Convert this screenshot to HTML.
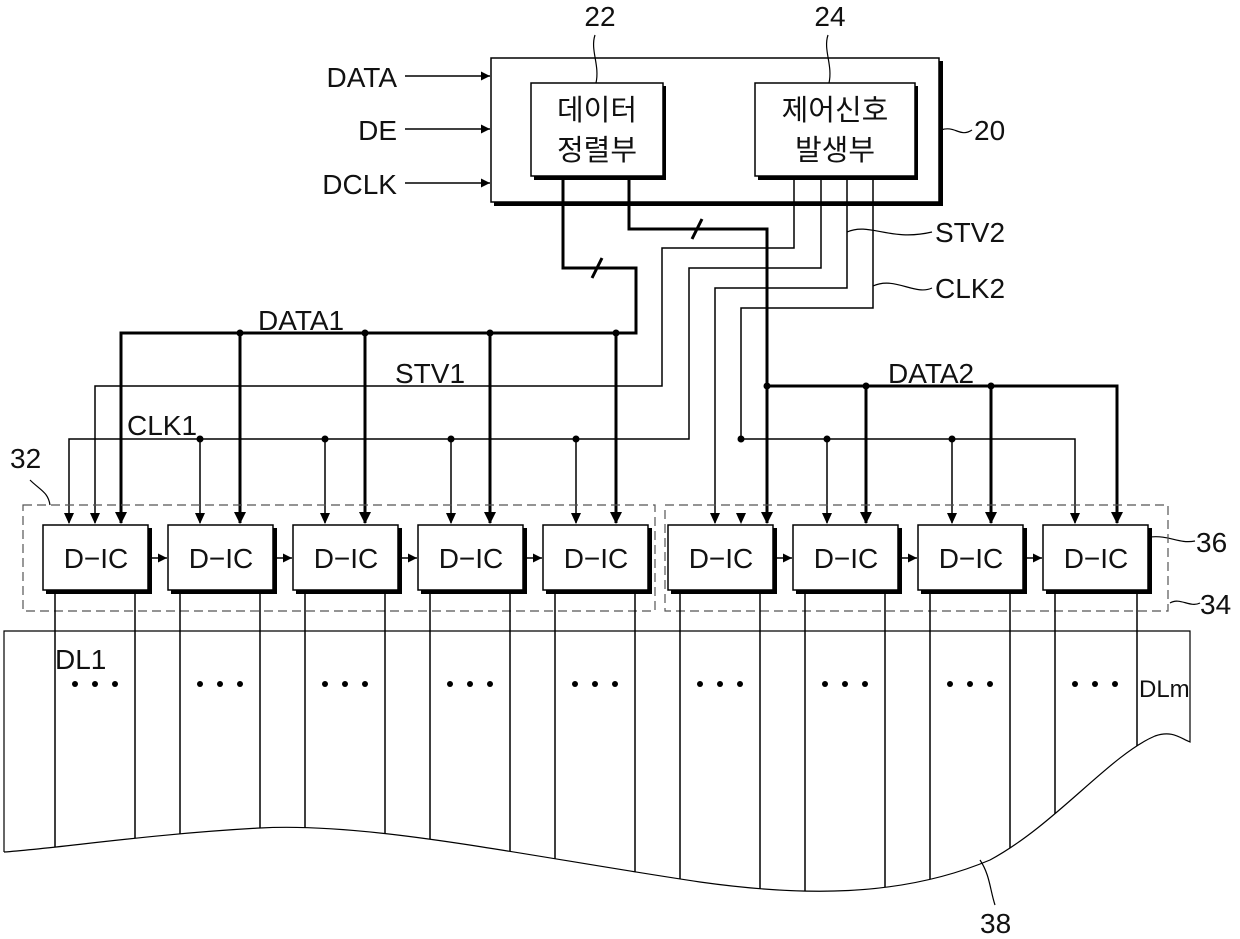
<!DOCTYPE html>
<html><head><meta charset="utf-8"><style>
html,body{margin:0;padding:0;background:#fff}
svg{display:block}
text{font-family:"Liberation Sans","Noto Sans CJK KR",sans-serif;fill:#111}
</style></head><body>
<svg width="1240" height="939" viewBox="0 0 1240 939" xmlns="http://www.w3.org/2000/svg">
<defs>
<marker id="a" viewBox="0 0 10 10" refX="10" refY="5" markerWidth="9" markerHeight="9" markerUnits="userSpaceOnUse" orient="auto"><path d="M0,0 L10,5 L0,10 z" fill="#000"/></marker>
<clipPath id="pc"><path d="M4,631 H1190 V742 C1180,738 1172,730 1155,736 C1110,755 1055,825 990,860 C900,898 800,896 700,882 C520,855 370,822 260,828 C150,834 60,848 4,852 Z"/></clipPath>
</defs>
<g stroke="#000" fill="none">
<rect x="494" y="61" width="449" height="145" fill="#000" stroke="none"/>
<rect x="491" y="58" width="448" height="144" fill="#fff" stroke-width="1.5"/>
<rect x="534" y="86" width="132" height="94" fill="#000" stroke="none"/>
<rect x="531" y="83" width="132" height="93" fill="#fff" stroke-width="1.5"/>
<rect x="758" y="86" width="160" height="94" fill="#000" stroke="none"/>
<rect x="755" y="83" width="160" height="93" fill="#fff" stroke-width="1.5"/>
<line x1="405" y1="76" x2="490" y2="76" stroke-width="1.5" marker-end="url(#a)"/>
<line x1="405" y1="129" x2="490" y2="129" stroke-width="1.5" marker-end="url(#a)"/>
<line x1="405" y1="183" x2="490" y2="183" stroke-width="1.5" marker-end="url(#a)"/>
<path d="M595,35 C590,50 600,65 596,83" stroke-width="1.2"/>
<path d="M828,35 C823,50 833,65 829,83" stroke-width="1.2"/>
<path d="M941,130 C955,125 960,138 972,130" stroke-width="1.2"/>
<path d="M847,232 C870,222 890,242 932,232" stroke-width="1.2"/>
<path d="M873,286 C895,276 915,296 932,288" stroke-width="1.2"/>
<path d="M30,480 C40,490 48,492 50,505" stroke-width="1.2"/>
<path d="M1150,537 C1170,535 1178,544 1195,541" stroke-width="1.2"/>
<path d="M1170,603 C1180,597 1190,608 1200,603" stroke-width="1.2"/>
<path d="M980,860 C990,875 990,890 995,905" stroke-width="1.2"/>
<g stroke-width="3">
<polyline points="563,176 563,268 636,268 636,333 121,333 121,523"/>
<line x1="240" y1="333" x2="240" y2="523"/>
<line x1="365" y1="333" x2="365" y2="523"/>
<line x1="490" y1="333" x2="490" y2="523"/>
<line x1="616" y1="333" x2="616" y2="523"/>
<polyline points="629,176 629,229 767,229 767,523"/>
<polyline points="767,386 1117,386 1117,523"/>
<line x1="866" y1="386" x2="866" y2="523"/>
<line x1="991" y1="386" x2="991" y2="523"/>
<line x1="592" y1="278" x2="602" y2="258"/>
<line x1="692" y1="239" x2="702" y2="219"/>
</g>
<g stroke-width="1.5">
<polyline points="794,176 794,248 662,248 662,386 95,386 95,523"/>
<polyline points="821,176 821,268 689,268 689,439 69,439 69,523"/>
<polyline points="847,176 847,288 715,288 715,523"/>
<polyline points="873,176 873,308 741,308 741,439 1075,439 1075,523"/>
<line x1="200" y1="439" x2="200" y2="523"/>
<line x1="325" y1="439" x2="325" y2="523"/>
<line x1="451" y1="439" x2="451" y2="523"/>
<line x1="576" y1="439" x2="576" y2="523"/>
<line x1="827" y1="439" x2="827" y2="523"/>
<line x1="952" y1="439" x2="952" y2="523"/>
</g>
<g fill="#000" stroke="none">
<path d="M64,513 L74,513 L69,524 z"/><path d="M90,513 L100,513 L95,524 z"/><path d="M115,512 L127,512 L121,524 z"/>
<path d="M195,513 L205,513 L200,524 z"/><path d="M234,512 L246,512 L240,524 z"/>
<path d="M320,513 L330,513 L325,524 z"/><path d="M359,512 L371,512 L365,524 z"/>
<path d="M446,513 L456,513 L451,524 z"/><path d="M484,512 L496,512 L490,524 z"/>
<path d="M571,513 L581,513 L576,524 z"/><path d="M610,512 L622,512 L616,524 z"/>
<path d="M710,513 L720,513 L715,524 z"/><path d="M736,513 L746,513 L741,524 z"/><path d="M761,512 L773,512 L767,524 z"/>
<path d="M822,513 L832,513 L827,524 z"/><path d="M860,512 L872,512 L866,524 z"/>
<path d="M947,513 L957,513 L952,524 z"/><path d="M985,512 L997,512 L991,524 z"/>
<path d="M1070,513 L1080,513 L1075,524 z"/><path d="M1111,512 L1123,512 L1117,524 z"/>
<circle cx="240" cy="333" r="3.5"/><circle cx="365" cy="333" r="3.5"/><circle cx="490" cy="333" r="3.5"/><circle cx="616" cy="333" r="3.5"/>
<circle cx="767" cy="386" r="3.5"/><circle cx="866" cy="386" r="3.5"/><circle cx="991" cy="386" r="3.5"/>
<circle cx="200" cy="439" r="3.5"/><circle cx="325" cy="439" r="3.5"/><circle cx="451" cy="439" r="3.5"/><circle cx="576" cy="439" r="3.5"/>
<circle cx="741" cy="439" r="3.5"/><circle cx="827" cy="439" r="3.5"/><circle cx="952" cy="439" r="3.5"/>
</g>
<rect x="23" y="505" width="632" height="106" stroke="#555" stroke-width="1.2" stroke-dasharray="9,5"/>
<rect x="665" y="505" width="503" height="106" stroke="#555" stroke-width="1.2" stroke-dasharray="9,5"/>
<path d="M4,852 V631 H1190 V742 C1180,738 1172,730 1155,736 C1110,755 1055,825 990,860 C900,898 800,896 700,882 C520,855 370,822 260,828 C150,834 60,848 4,852" stroke-width="1.2"/>
<g stroke-width="1.5">
<line x1="55" y1="590" x2="55" y2="631"/><line x1="135" y1="590" x2="135" y2="631"/>
<line x1="180" y1="590" x2="180" y2="631"/><line x1="260" y1="590" x2="260" y2="631"/>
<line x1="305" y1="590" x2="305" y2="631"/><line x1="385" y1="590" x2="385" y2="631"/>
<line x1="430" y1="590" x2="430" y2="631"/><line x1="510" y1="590" x2="510" y2="631"/>
<line x1="555" y1="590" x2="555" y2="631"/><line x1="635" y1="590" x2="635" y2="631"/>
<line x1="680" y1="590" x2="680" y2="631"/><line x1="760" y1="590" x2="760" y2="631"/>
<line x1="805" y1="590" x2="805" y2="631"/><line x1="885" y1="590" x2="885" y2="631"/>
<line x1="930" y1="590" x2="930" y2="631"/><line x1="1010" y1="590" x2="1010" y2="631"/>
<line x1="1055" y1="590" x2="1055" y2="631"/><line x1="1137" y1="590" x2="1137" y2="631"/>
</g>
<g stroke-width="1.5" clip-path="url(#pc)">
<line x1="55" y1="631" x2="55" y2="920"/><line x1="135" y1="631" x2="135" y2="920"/>
<line x1="180" y1="631" x2="180" y2="920"/><line x1="260" y1="631" x2="260" y2="920"/>
<line x1="305" y1="631" x2="305" y2="920"/><line x1="385" y1="631" x2="385" y2="920"/>
<line x1="430" y1="631" x2="430" y2="920"/><line x1="510" y1="631" x2="510" y2="920"/>
<line x1="555" y1="631" x2="555" y2="920"/><line x1="635" y1="631" x2="635" y2="920"/>
<line x1="680" y1="631" x2="680" y2="920"/><line x1="760" y1="631" x2="760" y2="920"/>
<line x1="805" y1="631" x2="805" y2="920"/><line x1="885" y1="631" x2="885" y2="920"/>
<line x1="930" y1="631" x2="930" y2="920"/><line x1="1010" y1="631" x2="1010" y2="920"/>
<line x1="1055" y1="631" x2="1055" y2="920"/><line x1="1137" y1="631" x2="1137" y2="920"/>
</g>
<g>
<rect x="46" y="528" width="106" height="66" fill="#000" stroke="none"/><rect x="43" y="525" width="105" height="65" fill="#fff" stroke-width="1.5"/>
<rect x="171" y="528" width="106" height="66" fill="#000" stroke="none"/><rect x="168" y="525" width="105" height="65" fill="#fff" stroke-width="1.5"/>
<rect x="296" y="528" width="106" height="66" fill="#000" stroke="none"/><rect x="293" y="525" width="105" height="65" fill="#fff" stroke-width="1.5"/>
<rect x="421" y="528" width="106" height="66" fill="#000" stroke="none"/><rect x="418" y="525" width="105" height="65" fill="#fff" stroke-width="1.5"/>
<rect x="546" y="528" width="106" height="66" fill="#000" stroke="none"/><rect x="543" y="525" width="105" height="65" fill="#fff" stroke-width="1.5"/>
<rect x="671" y="528" width="106" height="66" fill="#000" stroke="none"/><rect x="668" y="525" width="105" height="65" fill="#fff" stroke-width="1.5"/>
<rect x="796" y="528" width="106" height="66" fill="#000" stroke="none"/><rect x="793" y="525" width="105" height="65" fill="#fff" stroke-width="1.5"/>
<rect x="921" y="528" width="106" height="66" fill="#000" stroke="none"/><rect x="918" y="525" width="105" height="65" fill="#fff" stroke-width="1.5"/>
<rect x="1046" y="528" width="106" height="66" fill="#000" stroke="none"/><rect x="1043" y="525" width="105" height="65" fill="#fff" stroke-width="1.5"/>
</g>
<g stroke-width="1.5">
<line x1="152" y1="558" x2="167" y2="558" marker-end="url(#a)"/>
<line x1="277" y1="558" x2="292" y2="558" marker-end="url(#a)"/>
<line x1="402" y1="558" x2="417" y2="558" marker-end="url(#a)"/>
<line x1="527" y1="558" x2="542" y2="558" marker-end="url(#a)"/>
<line x1="777" y1="558" x2="792" y2="558" marker-end="url(#a)"/>
<line x1="902" y1="558" x2="917" y2="558" marker-end="url(#a)"/>
<line x1="1027" y1="558" x2="1042" y2="558" marker-end="url(#a)"/>
</g>
</g>
<g fill="#000">
<circle cx="75" cy="684" r="3"/><circle cx="95" cy="684" r="3"/><circle cx="115" cy="684" r="3"/>
<circle cx="200" cy="684" r="3"/><circle cx="220" cy="684" r="3"/><circle cx="240" cy="684" r="3"/>
<circle cx="325" cy="684" r="3"/><circle cx="345" cy="684" r="3"/><circle cx="365" cy="684" r="3"/>
<circle cx="450" cy="684" r="3"/><circle cx="470" cy="684" r="3"/><circle cx="490" cy="684" r="3"/>
<circle cx="575" cy="684" r="3"/><circle cx="595" cy="684" r="3"/><circle cx="615" cy="684" r="3"/>
<circle cx="700" cy="684" r="3"/><circle cx="720" cy="684" r="3"/><circle cx="740" cy="684" r="3"/>
<circle cx="825" cy="684" r="3"/><circle cx="845" cy="684" r="3"/><circle cx="865" cy="684" r="3"/>
<circle cx="950" cy="684" r="3"/><circle cx="970" cy="684" r="3"/><circle cx="990" cy="684" r="3"/>
<circle cx="1075" cy="684" r="3"/><circle cx="1095" cy="684" r="3"/><circle cx="1115" cy="684" r="3"/>
</g>
<g font-size="28">
<text x="397" y="87" text-anchor="end">DATA</text>
<text x="397" y="140" text-anchor="end">DE</text>
<text x="397" y="194" text-anchor="end">DCLK</text>
<text x="600" y="26" text-anchor="middle">22</text>
<text x="830" y="26" text-anchor="middle">24</text>
<text x="974" y="140">20</text>
<text x="597" y="120" text-anchor="middle" font-size="29">데이터</text>
<text x="597" y="160" text-anchor="middle" font-size="29">정렬부</text>
<text x="835" y="120" text-anchor="middle" font-size="29">제어신호</text>
<text x="835" y="160" text-anchor="middle" font-size="29">발생부</text>
<text x="935" y="242">STV2</text>
<text x="935" y="298">CLK2</text>
<text x="258" y="330">DATA1</text>
<text x="395" y="383">STV1</text>
<text x="127" y="435">CLK1</text>
<text x="888" y="383">DATA2</text>
<text x="10" y="468">32</text>
<text x="1196" y="552">36</text>
<text x="1200" y="614">34</text>
<text x="980" y="933">38</text>
<text x="55" y="669">DL1</text>
<text x="1139" y="697" font-size="24">DLm</text>
<g font-size="28" text-anchor="middle">
<text x="96" y="568">D−IC</text><text x="221" y="568">D−IC</text><text x="346" y="568">D−IC</text><text x="471" y="568">D−IC</text><text x="596" y="568">D−IC</text>
<text x="721" y="568">D−IC</text><text x="846" y="568">D−IC</text><text x="971" y="568">D−IC</text><text x="1096" y="568">D−IC</text>
</g>
</g>
</svg>
</body></html>
